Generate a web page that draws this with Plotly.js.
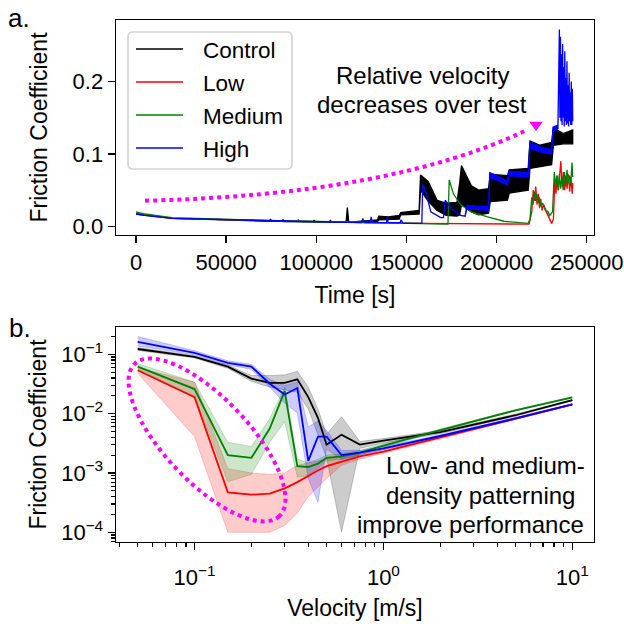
<!DOCTYPE html>
<html>
<head>
<meta charset="utf-8">
<script src="https://cdn.plot.ly/plotly-3.0.1.min.js"></script>
<style>html,body{margin:0;padding:0;background:#fff;}#plot{width:624px;height:627px;}</style>
</head>
<body>
<div id="plot"></div>
<script>
// ---------- Panel a: friction coefficient vs time (hi/lo = envelope of dense noise) ----------
const seriesNames = ['Control', 'Low', 'Medium', 'High'];
const seriesColors = ['black', 'red', 'green', 'blue'];

const controlT  = [0, 5000, 20000, 60000, 74000, 74600, 75200, 81000, 81600, 82200, 89400, 90000, 90600, 98200, 98800, 99400, 107200, 107800, 108400, 116500, 117200, 118000, 128000, 134000, 134600, 140000, 146000, 146800, 157000, 157800, 162000, 167000, 172000, 178000, 179500, 180500, 186000, 190000, 195500, 196500, 206000, 207000, 217500, 218500, 224000, 230500, 231500, 237000, 242200];
const controlHi = [0.017, 0.015, 0.011, 0.0085, 0.007, 0.010, 0.007, 0.0068, 0.0095, 0.0066, 0.0064, 0.009, 0.0062, 0.006, 0.0088, 0.006, 0.0058, 0.0085, 0.0057, 0.0056, 0.026, 0.0056, 0.008, 0.009, 0.014, 0.013, 0.015, 0.019, 0.022, 0.071, 0.062, 0.036, 0.032, 0.033, 0.06, 0.084, 0.056, 0.05, 0.052, 0.072, 0.07, 0.078, 0.08, 0.118, 0.112, 0.116, 0.136, 0.128, 0.133];
const controlLo = [0.017, 0.015, 0.011, 0.0085, 0.007, 0.007, 0.007, 0.0068, 0.0066, 0.0066, 0.0064, 0.0062, 0.0062, 0.006, 0.006, 0.006, 0.0058, 0.0057, 0.0057, 0.0056, 0.0056, 0.0056, 0.006, 0.007, 0.009, 0.009, 0.010, 0.016, 0.017, 0.05, 0.035, 0.022, 0.015, 0.014, 0.016, 0.03, 0.02, 0.016, 0.018, 0.034, 0.036, 0.046, 0.05, 0.08, 0.082, 0.085, 0.112, 0.114, 0.114];

const lowT  = [0, 5000, 20000, 60000, 93000, 120000, 158000, 218000, 219500, 220300, 221000, 221700, 222400, 223100, 223800, 224500, 225200, 226000, 227500, 229000, 230500, 231500, 232200, 232900, 233600, 234300, 235000, 235600, 236300, 237000, 237700, 238400, 239100, 239800, 240500, 241200, 241900, 242200];
const lowHi = [0.018, 0.016, 0.011, 0.0085, 0.0065, 0.0055, 0.004, 0.003, 0.02, 0.05, 0.035, 0.055, 0.03, 0.045, 0.025, 0.038, 0.022, 0.03, 0.02, 0.012, 0.004, 0.01, 0.06, 0.045, 0.07, 0.05, 0.075, 0.09, 0.055, 0.075, 0.05, 0.07, 0.052, 0.072, 0.048, 0.068, 0.045, 0.06];
const lowLo = lowHi;

const medT  = [0, 5000, 20000, 60000, 93000, 120000, 158000, 173000, 173700, 176000, 180000, 186000, 195000, 204000, 217500, 218500, 219500, 220200, 220900, 221600, 222300, 223000, 223700, 224400, 225500, 227000, 228500, 229500, 231000, 232000, 232700, 233400, 234100, 234800, 235500, 236200, 236900, 237600, 238300, 239000, 239700, 240400, 241100, 241800, 242200];
const medHi = [0.020, 0.017, 0.012, 0.0087, 0.0066, 0.0056, 0.004, 0.003, 0.064, 0.045, 0.03, 0.02, 0.013, 0.007, 0.004, 0.010, 0.04, 0.03, 0.048, 0.035, 0.045, 0.032, 0.04, 0.028, 0.032, 0.022, 0.02, 0.015, 0.02, 0.075, 0.055, 0.07, 0.05, 0.072, 0.052, 0.068, 0.05, 0.075, 0.055, 0.078, 0.06, 0.07, 0.058, 0.088, 0.068];
const medLo = medHi;

const highT  = [0, 5000, 20000, 60000, 100000, 125000, 125800, 126600, 130000, 130400, 131000, 139000, 139300, 139800, 146500, 147000, 148000, 158500, 159000, 161000, 163500, 169000, 170500, 171500, 175000, 180000, 182500, 183500, 190000, 195500, 196200, 200000, 206000, 207000, 217500, 218500, 225000, 230500, 231300, 234000,
  234800, 235100, 235400, 235700, 236000, 236300, 236600, 236900, 237200, 237500, 237800, 238100, 238400, 238700, 239000, 239300, 239600, 239900, 240200, 240500, 240800, 241100, 241400, 241700, 242000, 242200];
const highHi = [0.017, 0.015, 0.011, 0.0085, 0.006, 0.005, 0.011, 0.005, 0.005, 0.013, 0.005, 0.005, 0.014, 0.005, 0.005, 0.009, 0.0045, 0.004, 0.058, 0.045, 0.02, 0.012, 0.012, 0.036, 0.024, 0.015, 0.014, 0.029, 0.028, 0.027, 0.074, 0.070, 0.062, 0.076, 0.074, 0.116, 0.109, 0.106, 0.137, 0.14,
  0.272, 0.15, 0.262, 0.145, 0.238, 0.14, 0.252, 0.15, 0.22, 0.138, 0.242, 0.145, 0.205, 0.14, 0.228, 0.142, 0.195, 0.138, 0.212, 0.145, 0.185, 0.14, 0.2, 0.14, 0.19, 0.145];
const highLo = highHi.map((v, i) => i < 40 ? [0.017, 0.015, 0.011, 0.0085, 0.006, 0.005, 0.011, 0.005, 0.005, 0.013, 0.005, 0.005, 0.014, 0.005, 0.005, 0.009, 0.0045, 0.004, 0.058, 0.045, 0.02, 0.012, 0.012, 0.036, 0.024, 0.015, 0.014, 0.024, 0.023, 0.022, 0.068, 0.064, 0.057, 0.070, 0.068, 0.108, 0.102, 0.100, 0.131, 0.135][i] : v);

// ---------- Panel b: friction coefficient vs velocity ----------
const velocity = [0.05, 0.1, 0.15, 0.2, 0.25, 0.3, 0.35, 0.4, 0.45, 0.5, 0.6, 0.75, 1, 2, 5, 10];
const controlMean = [0.123, 0.091, 0.062, 0.039, 0.033, 0.033, 0.038, 0.019, 0.0085, 0.0030, 0.0044, 0.0030, 0.0035, 0.0049, 0.0094, 0.0169];
const controlUp   = [0.130, 0.095, 0.066, 0.044, 0.044, 0.045, 0.052, 0.028, 0.012, 0.0045, 0.0089, 0.0034, 0.0038, 0.0052, 0.0098, 0.0174];
const controlDn   = [0.116, 0.087, 0.058, 0.035, 0.028, 0.025, 0.023, 0.012, 0.0045, 0.0018, 0.0001, 0.0026, 0.0032, 0.0046, 0.0090, 0.0164];
const lowMean = [0.054, 0.019, 0.00047, 0.00043, 0.00045, 0.00055, 0.0007, 0.0009, 0.0011, 0.0013, 0.00155, 0.0019, 0.0023, 0.0040, 0.0082, 0.0143];
const lowUp   = [0.060, 0.034, 0.00118, 0.0010, 0.00095, 0.0010, 0.00135, 0.0015, 0.0016, 0.0017, 0.0019, 0.0021, 0.0025, 0.0042, 0.0085, 0.0147];
const lowDn   = [0.048, 0.0041, 0.0001, 0.0001, 0.0001, 0.00013, 0.00021, 0.0004, 0.00058, 0.00081, 0.00135, 0.0017, 0.0021, 0.0038, 0.0079, 0.0139];
const medMean = [0.062, 0.026, 0.0020, 0.0018, 0.0056, 0.024, 0.0013, 0.00126, 0.00144, 0.0018, 0.0019, 0.0022, 0.0029, 0.0053, 0.0114, 0.0188];
const medUp   = [0.070, 0.034, 0.0033, 0.0028, 0.0083, 0.028, 0.0017, 0.0015, 0.0017, 0.0020, 0.0021, 0.0024, 0.0031, 0.0055, 0.0117, 0.0192];
const medDn   = [0.056, 0.020, 0.00071, 0.00095, 0.0033, 0.0073, 0.00085, 0.0009, 0.0012, 0.0016, 0.0017, 0.0020, 0.0027, 0.0051, 0.0111, 0.0184];
const highMean = [0.163, 0.106, 0.072, 0.062, 0.032, 0.021, 0.027, 0.0016, 0.0041, 0.0041, 0.0020, 0.0022, 0.0026, 0.0042, 0.0083, 0.0143];
const highUp   = [0.200, 0.115, 0.078, 0.068, 0.038, 0.030, 0.034, 0.006, 0.0075, 0.0052, 0.0024, 0.0024, 0.0028, 0.0044, 0.0086, 0.0147];
const highDn   = [0.138, 0.098, 0.066, 0.056, 0.028, 0.015, 0.0103, 0.0008, 0.00032, 0.0025, 0.0017, 0.0020, 0.0024, 0.0040, 0.0080, 0.0139];

const xTickVals2 = [0.1, 1, 10];
const xTickText2 = ['10<sup>−1</sup>', '10<sup>0</sup>', '10<sup>1</sup>'];
const yTickVals2 = [1e-4, 1e-3, 1e-2, 1e-1];
const yTickText2 = ['10<sup>−4</sup>', '10<sup>−3</sup>', '10<sup>−2</sup>', '10<sup>−1</sup>'];

// ---------- geometry ----------
const W = 624, H = 627, ML = 116, MR = 30, MT = 20, MB = 85;
const PW = W - ML - MR, PH = H - MT - MB;
function toPaper(px, py) { return [(px - ML) / PW, (H - MB - py) / PH]; }
function pp(px, py) { const p = toPaper(px, py); return p[0].toFixed(5) + ',' + p[1].toFixed(5); }
function minorLog(lo, hi) { const v = []; for (let e = lo; e <= hi; e++) for (let m = 2; m <= 9; m++) v.push(m * Math.pow(10, e)); return v; }

const FONT = 'Liberation Sans, Arial, Helvetica, sans-serif';
const rgba = {black: 'rgba(0,0,0,', red: 'rgba(255,0,0,', green: 'rgba(0,128,0,', blue: 'rgba(0,0,255,'};

const traces = [];
const topData = [[controlT, controlHi, controlLo], [lowT, lowHi, lowLo], [medT, medHi, medLo], [highT, highHi, highLo]];
topData.forEach((d, i) => {
  const [t, hi, lo] = d;
  traces.push({
    name: seriesNames[i],
    x: t.concat(t.slice().reverse()), y: hi.concat(lo.slice().reverse()),
    mode: 'lines', fill: 'toself', fillcolor: seriesColors[i],
    line: {color: seriesColors[i], width: 1.3}, xaxis: 'x', yaxis: 'y',
    showlegend: false, hoverinfo: 'skip'
  });
});

const botData = [[controlMean, controlUp, controlDn], [lowMean, lowUp, lowDn], [medMean, medUp, medDn], [highMean, highUp, highDn]];
botData.forEach((d, i) => {
  const [m, up, dn] = d;
  const c = seriesColors[i];
  traces.push({
    x: velocity.concat(velocity.slice().reverse()), y: up.concat(dn.slice().reverse()),
    mode: 'lines', fill: 'toself', fillcolor: rgba[c] + '0.2)',
    line: {color: rgba[c] + '0.25)', width: 0.8}, xaxis: 'x2', yaxis: 'y2',
    showlegend: false, hoverinfo: 'skip'
  });
});
botData.forEach((d, i) => {
  traces.push({name: seriesNames[i], x: velocity, y: d[0], mode: 'lines', line: {color: seriesColors[i], width: 1.8},
    xaxis: 'x2', yaxis: 'y2', showlegend: false, hoverinfo: 'skip'});
});

const axBase = {
  showline: true, mirror: true, linecolor: 'black', linewidth: 1.4,
  ticks: 'outside', ticklen: 7, tickwidth: 1.4, tickcolor: 'black',
  showgrid: false, zeroline: false, tickfont: {family: FONT, size: 22, color: 'black'}
};

function ellipsePath(cx, cy, a, b, deg) {
  const k = 0.5523, t = deg * Math.PI / 180, c = Math.cos(t), s = Math.sin(t);
  const P = (x, y) => pp(cx + x * c - y * s, cy + x * s + y * c);
  return 'M ' + P(a, 0) + ' C ' + P(a, k * b) + ' ' + P(k * a, b) + ' ' + P(0, b) +
    ' C ' + P(-k * a, b) + ' ' + P(-a, k * b) + ' ' + P(-a, 0) +
    ' C ' + P(-a, -k * b) + ' ' + P(-k * a, -b) + ' ' + P(0, -b) +
    ' C ' + P(k * a, -b) + ' ' + P(a, -k * b) + ' ' + P(a, 0) + ' Z';
}
function roundRect(x0, y0, x1, y1, r) {
  return 'M ' + pp(x0 + r, y0) + ' L ' + pp(x1 - r, y0) + ' Q ' + pp(x1, y0) + ' ' + pp(x1, y0 + r) +
    ' L ' + pp(x1, y1 - r) + ' Q ' + pp(x1, y1) + ' ' + pp(x1 - r, y1) +
    ' L ' + pp(x0 + r, y1) + ' Q ' + pp(x0, y1) + ' ' + pp(x0, y1 - r) +
    ' L ' + pp(x0, y0 + r) + ' Q ' + pp(x0, y0) + ' ' + pp(x0 + r, y0) + ' Z';
}

function ann(text, px, py, size, xanchor) {
  const p = toPaper(px, py);
  return {text: text, x: p[0], y: p[1], xref: 'paper', yref: 'paper', showarrow: false,
    xanchor: xanchor || 'center', yanchor: 'middle', font: {family: FONT, size: size, color: 'black'}};
}

// legend (drawn as box + line samples + labels)
const legendRows = [49, 82, 115, 148];
const shapes = [
  {type: 'path', xref: 'paper', yref: 'paper', path: roundRect(128, 32, 292, 169, 5),
    fillcolor: 'rgba(255,255,255,0.85)', line: {color: '#d3d3d3', width: 1.6}},
  {type: 'path', xref: 'paper', yref: 'paper', path: 'M ' + pp(145, 200.7) + ' Q ' + pp(390, 195) + ' ' + pp(527, 130),
    line: {color: '#ff00ff', width: 4, dash: 'dot'}},
  {type: 'path', xref: 'paper', yref: 'paper', path: 'M ' + pp(529.3, 121.7) + ' L ' + pp(542.7, 121.7) + ' L ' + pp(536, 131) + ' Z',
    fillcolor: '#ff00ff', line: {width: 0}},
  {type: 'path', xref: 'paper', yref: 'paper', path: ellipsePath(207, 440, 105, 42, 46.5),
    line: {color: '#ff00ff', width: 4, dash: 'dot'}}
];
const annotations = [
  ann('a.', 19, 18, 26),
  ann('b.', 20, 328, 26),
  ann('Relative velocity', 422, 75, 24),
  ann('decreases over test', 422, 104, 24),
  ann('Low- and medium-', 587, 465.7, 24, 'right'),
  ann('density patterning', 577, 495.7, 24, 'right'),
  ann('improve performance', 586, 524, 24, 'right')
];
seriesNames.forEach((n, i) => {
  const a = toPaper(136, legendRows[i]), b = toPaper(183, legendRows[i]);
  shapes.push({type: 'line', xref: 'paper', yref: 'paper', x0: a[0], y0: a[1], x1: b[0], y1: b[1],
    line: {color: seriesColors[i], width: 1.5}});
  annotations.push(ann(n, 201, legendRows[i] + 1, 22.5, 'left'));
});

const layout = {
  width: W, height: H, margin: {l: ML, r: MR, t: MT, b: MB},
  paper_bgcolor: 'white', plot_bgcolor: 'white',
  font: {family: FONT, size: 22, color: 'black'},
  showlegend: false,
  xaxis: Object.assign({}, axBase, {domain: [0, 1], anchor: 'y', range: [-11100, 254000],
    tick0: 0, dtick: 50000, tickformat: 'd',
    title: {text: 'Time [s]', font: {family: FONT, size: 23}, standoff: 13}}),
  yaxis: Object.assign({}, axBase, {domain: [307 / 522, 1], anchor: 'x', range: [-0.012, 0.285],
    tick0: 0, dtick: 0.1, tickformat: '.1f',
    title: {text: 'Friction Coefficient', font: {family: FONT, size: 23}, standoff: 18}}),
  xaxis2: Object.assign({}, axBase, {domain: [0, 1], anchor: 'y2', type: 'log', range: [-1.416, 1.115],
    tickmode: 'array', tickvals: xTickVals2, ticktext: xTickText2, ticklabelstandoff: 8,
    minor: {tickmode: 'array', tickvals: minorLog(-2, 0), ticks: 'outside', ticklen: 4, tickwidth: 1.2, tickcolor: 'black', showgrid: false},
    title: {text: 'Velocity [m/s]', font: {family: FONT, size: 23}, standoff: 11}}),
  yaxis2: Object.assign({}, axBase, {domain: [0, 215 / 522], anchor: 'x2', type: 'log', range: [-4.164, -0.539],
    tickmode: 'array', tickvals: yTickVals2, ticktext: yTickText2,
    minor: {tickmode: 'array', tickvals: minorLog(-5, -1), ticks: 'outside', ticklen: 4, tickwidth: 1.2, tickcolor: 'black', showgrid: false},
    title: {text: 'Friction Coefficient', font: {family: FONT, size: 23}, standoff: 8}}),
  shapes: shapes,
  annotations: annotations
};

Plotly.newPlot('plot', traces, layout, {staticPlot: true, displayModeBar: false});
</script>
</body>
</html>
